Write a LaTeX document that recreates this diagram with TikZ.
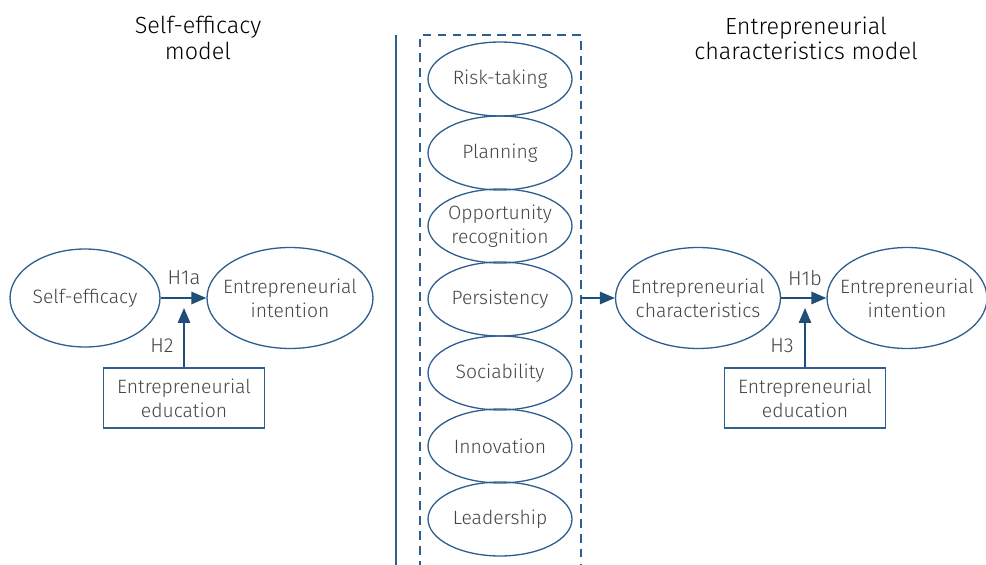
\documentclass[tikz,border=0pt]{standalone}
\usepackage{fontspec}
\setmainfont{Fira Sans}[UprightFont={* Light}]
\usetikzlibrary{shapes.geometric,arrows.meta,calc}
\definecolor{lineblue}{HTML}{2F5F8F}
\definecolor{arrowblue}{HTML}{1F4E79}
\definecolor{txt}{HTML}{444444}
\tikzset{
  bodyfont/.style={font=\fontsize{11}{13.6}\selectfont},
  % negative inner sep keeps each ellipse at its minimum size
  oval/.style={ellipse, draw=lineblue, line width=0.75pt, text=txt, align=center, bodyfont, inner xsep=-16pt, inner ysep=-8pt},
  trait/.style={oval, minimum width=2.88cm, minimum height=1.48cm},
  boxnode/.style={rectangle, draw=lineblue, line width=0.75pt, minimum width=3.22cm, minimum height=1.2cm, text=txt, align=center, bodyfont, inner sep=0pt},
  flow/.style={draw=arrowblue, line width=1pt, -{Triangle[length=8.5pt,width=7pt]}},
  hlabel/.style={text=txt, font=\fontsize{11.5}{13.6}\selectfont, inner sep=0pt},
  title/.style={text=black, align=center, font=\fontsize{13.3}{14.3}\selectfont, inner sep=0pt},
  grid px/.style={x=0.02cm, y=-0.02cm}
}
\begin{document}
\begin{tikzpicture}[grid px]
\useasboundingbox (0,0) rectangle (986,564);
\begin{scope}
\clip (0,0) rectangle (986,564);

% left model
\node[title] (t1) at (198,38) {Self-efficacy\\model};
\node[oval, minimum width=3.0cm, minimum height=1.96cm] (se) at (85,298) {Self-efficacy};
\node[oval, minimum width=3.32cm, minimum height=2.02cm] (ei1) at (290,298) {Entrepreneurial\\intention};
\node[boxnode] (ed1) at (184,398) {Entrepreneurial\\education};
\coordinate (j1) at (184,298);
\draw[flow] (se.east) -- (ei1.west);
\draw[flow] (ed1.north) -- ($(j1)+(0,10)$);
\node[hlabel] (h1a) at (184,278) {H1a};
\node[hlabel] (h2) at (162,346) {H2};

% separator and trait group
\coordinate (sepT) at (396,35);
\coordinate (sepB) at (396,570);
\draw[lineblue, line width=1pt] (sepT) -- (sepB);
\coordinate (gTL) at (420,35);
\coordinate (gTR) at (581,35);
\coordinate (gBL) at (420,570);
\coordinate (gBR) at (581,570);
\draw[lineblue, line width=0.9pt, dash pattern=on 5pt off 3.5pt] (gBL) -- (gTL) -- (gTR) -- (gBR);

\node[trait] (rt) at (500,79) {Risk-taking};
\node[trait] (pl) at (500,153) {Planning};
\node[trait] (op) at (500,226) {Opportunity\\recognition};
\node[trait] (pe) at (500,299) {Persistency};
\node[trait] (so) at (500,373) {Sociability};
\node[trait] (in) at (500,446) {Innovation};
\node[trait] (le) at (500,519) {Leadership};

% right model
\node[title] (t2) at (806,38) {Entrepreneurial\\characteristics model};
\coordinate (gOut) at (581,298);
\node[oval, minimum width=3.3cm, minimum height=2.02cm] (ec) at (698,298) {Entrepreneurial\\characteristics};
\node[oval, minimum width=3.2cm, minimum height=2.02cm] (ei2) at (907,298) {Entrepreneurial\\intention};
\node[boxnode] (ed2) at (805,398) {Entrepreneurial\\education};
\coordinate (j2) at (805,298);
\draw[flow] (gOut) -- (ec.west);
\draw[flow] (ec.east) -- (ei2.west);
\draw[flow] (ed2.north) -- ($(j2)+(0,10)$);
\node[hlabel] (h1b) at (805,278) {H1b};
\node[hlabel] (h3) at (782,346) {H3};
\end{scope}
\end{tikzpicture}
\end{document}
